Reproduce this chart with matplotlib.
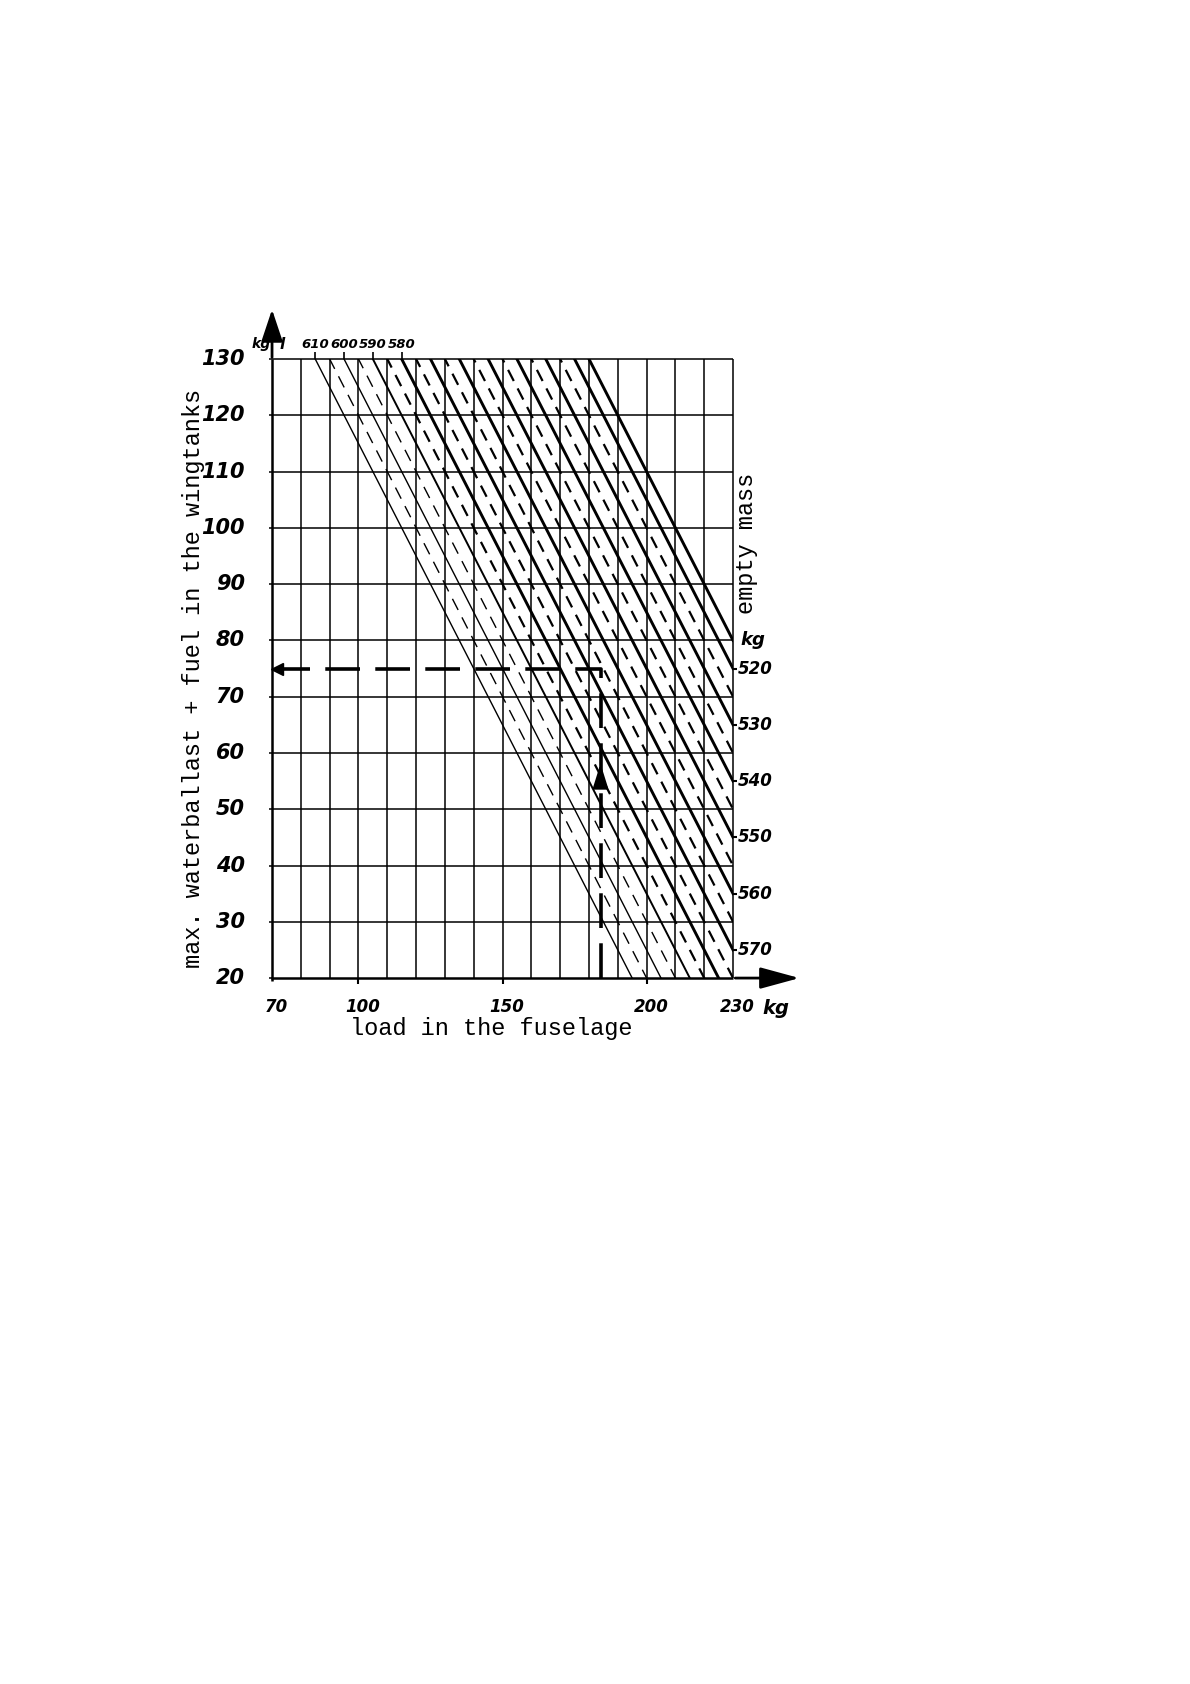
import matplotlib.pyplot as plt

# load in the fuselage (x) and max. waterballast + fuel in the wingtanks (y), kg
x_grid = [70, 80, 90, 100, 110, 120, 130, 140, 150, 160, 170, 180, 190, 200, 210, 220, 230]
y_grid = [20, 30, 40, 50, 60, 70, 80, 90, 100, 110, 120, 130]
x_labels = [70, 100, 150, 200, 230]
y_labels = [130, 120, 110, 100, 90, 80, 70, 60, 50, 40, 30, 20]

# empty mass lines: load + wing load = max_sum - empty mass
max_sum = 825
empty_mass = [610, 605, 600, 595, 590, 585, 580, 575, 570, 565,
              560, 555, 550, 545, 540, 535, 530, 525, 520, 515]
top_mass_labels = [610, 600, 590, 580]
right_mass_labels = [520, 530, 540, 550, 560, 570]

# worked example (dashed path)
example_load = 184
example_wing = 75
example_arrow_y = 57

plt.rcParams['lines.scale_dashes'] = False
NUM = dict(family=['DejaVu Sans'], weight='bold', style='italic')
MONO = dict(family=['Liberation Mono', 'DejaVu Sans Mono'])

fig = plt.figure(figsize=(11.9, 16.84), dpi=100)
ax = fig.add_axes([0.2286, 0.4192, 0.3874, 0.3676])
ax.set_xlim(70, 230)
ax.set_ylim(20, 130)
ax.axis('off')

# grid
ax.vlines(x_grid[1:], 20, 130, color='k', lw=1.1, clip_on=False)
ax.hlines(y_grid[1:], 70, 230, color='k', lw=1.1, clip_on=False)
ax.vlines([70], 19.5, 130, color='k', lw=1.8, clip_on=False)
ax.hlines([20], 69.5, 230, color='k', lw=1.8, clip_on=False)
ax.hlines(y_grid, 68.8, 70, color='k', lw=1.1, clip_on=False)
ax.vlines([100, 150, 200], 19.0, 20, color='k', lw=1.5, clip_on=False)

# axis arrows
ax.annotate('', xy=(70, 139.3), xytext=(70, 129.8), annotation_clip=False,
            arrowprops=dict(arrowstyle='-|>,head_length=0.9,head_width=0.3',
                            color='k', lw=2, mutation_scale=22))
ax.annotate('', xy=(254, 20), xytext=(229.8, 20), annotation_clip=False,
            arrowprops=dict(arrowstyle='-|>,head_length=1.1,head_width=0.3',
                            color='k', lw=2, mutation_scale=22))

# empty mass lines
for i, m in enumerate(empty_mass):
    s = max_sum - m
    solid = m % 10 == 0 or m == empty_mass[-1]
    if solid:
        lw = 1.0 if i < 3 else (1.4 if i < 5 else 2.1)
        ls = '-'
    else:
        lw = 1.0 if i < 4 else 1.6
        ls = (0, (9, 6))
    ax.plot([70, 230], [s - 70, s - 230], color='k', lw=lw, ls=ls)

# top labels of the empty mass lines
for m in top_mass_labels:
    xs = max_sum - m - 130
    ax.vlines([xs], 130, 131.2, color='k', lw=1.2, clip_on=False)
    ax.text(xs, 131.4, str(m), ha='center', va='bottom', fontsize=9.5, **NUM)

# right-hand empty mass scale
for m in right_mass_labels:
    yr = max_sum - m - 230
    ax.hlines([yr], 230, 231.3, color='k', lw=1.5, clip_on=False)
    ax.text(231.8, yr, str(m), ha='left', va='center', fontsize=12, **NUM)
ax.text(232.6, 80, 'kg', ha='left', va='center', fontsize=13, **NUM)

# tick labels
for v in y_labels:
    ax.text(60.5, v, str(v), ha='right', va='center', fontsize=15, **NUM)
for v in x_labels:
    ax.text(v + 1.5, 14.8, str(v), ha='center', va='center', fontsize=12, **NUM)
ax.text(245, 14.6, 'kg', ha='center', va='center', fontsize=14, **NUM)
ax.text(66.3, 132.6, 'kg', ha='center', va='center', fontsize=10, **NUM)
ax.text(73.5, 132.6, 'l', ha='center', va='center', fontsize=11, **NUM)

# axis titles
ax.text(42.6, 73.3, 'max. waterballast + fuel in the wingtanks', rotation=90,
        ha='center', va='center', fontsize=17, **MONO)
ax.text(146, 11.1, 'load in the fuselage', ha='center', va='center', fontsize=17, **MONO)
ax.text(234.6, 97.3, 'empty mass', rotation=90, ha='center', va='center',
        fontsize=17, **MONO)

# worked example
ax.plot([example_load, example_load, 71.5], [20, example_wing, example_wing],
        color='k', lw=2.6, ls=(0, (25, 11)), clip_on=False)
ax.plot([71.8], [example_wing], marker='<', ms=8, color='k', clip_on=False)
ax.annotate('', xy=(example_load, example_arrow_y + 1.6), xytext=(example_load, example_arrow_y - 1.5),
            arrowprops=dict(arrowstyle='-|>,head_length=0.8,head_width=0.25',
                            color='k', lw=2, mutation_scale=18))

fig.savefig('out.png', dpi=100, facecolor='white')
